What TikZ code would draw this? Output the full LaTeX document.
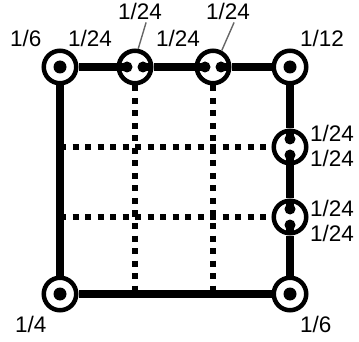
\documentclass[tikz,border=0pt]{standalone}
\usepackage{fontspec}
\setmainfont{Liberation Sans}
\begin{document}
\begin{tikzpicture}[x=1pt,y=-1pt,
  thickline/.style={line width=7.5pt},
  dotline/.style={line width=6pt, dash pattern=on 6pt off 6.5pt},
  vtx/.style={circle, draw, line width=3pt, fill=white, minimum size=34pt, inner sep=0pt},
  lbl/.style={font=\fontsize{22.5}{22.5}\selectfont, inner sep=0pt, anchor=base west},
  ptr/.style={line width=1.4pt, black!60}]
\useasboundingbox (0,0) rectangle (359,342);
% vertices
\node[vtx] (tl) at (60,67) {};
\node[vtx] (m1) at (135,67) {};
\node[vtx] (m2) at (213,67) {};
\node[vtx] (tr) at (290,67) {};
\node[vtx] (r1) at (290,147) {};
\node[vtx] (r2) at (290,217) {};
\node[vtx] (br) at (290,294) {};
\node[vtx] (bl) at (60,294) {};
% dotted grid
\draw[dotline] (m1.south) -- (m1 |- bl);
\draw[dotline] (m2.south) -- (m2 |- bl);
\draw[dotline] (tl |- r1) -- (r1.west);
\draw[dotline] (tl |- r2) -- (r2.west);
% thick frame
\draw[thickline] (tl) -- (m1);
\draw[thickline] (m1) -- (m2);
\draw[thickline] (m2) -- (tr);
\draw[thickline] (tr) -- (r1);
\draw[thickline] (r1) -- (r2);
\draw[thickline] (r2) -- (br);
\draw[thickline] (br) -- (bl);
\draw[thickline] (bl) -- (tl);
% redraw circles on top of dotted lines
\foreach \n in {tl,m1,m2,tr,r1,r2,br,bl}{
  \draw[line width=3pt, fill=white] (\n.center) circle (15.5pt);
}
% corner dots
\foreach \n in {tl,tr,br,bl}{
  \fill (\n.center) circle (6.5pt);
}
% split dots in top middle vertices
\foreach \n in {m1,m2}{
  \draw[thickline] ([xshift=-16pt]\n.center) -- ([xshift=-8pt]\n.center);
  \draw[thickline] ([xshift=16pt]\n.center) -- ([xshift=8pt]\n.center);
  \fill ([xshift=-8pt]\n.center) circle (5.5pt);
  \fill ([xshift=8pt]\n.center) circle (5.5pt);
}
% split dots in right middle vertices
\foreach \n in {r1,r2}{
  \draw[thickline] ([yshift=16pt]\n.center) -- ([yshift=8pt]\n.center);
  \draw[thickline] ([yshift=-16pt]\n.center) -- ([yshift=-8pt]\n.center);
  \fill ([yshift=8pt]\n.center) circle (5.5pt);
  \fill ([yshift=-8pt]\n.center) circle (5.5pt);
}
% labels
\node[lbl] (ltl) at (10,47) {1/6};
\node[lbl] (la) at (68,47) {1/24};
\node[lbl] (lb) at (156,47) {1/24};
\node[lbl] (lc) at (118,20) {1/24};
\node[lbl] (ld) at (206,20) {1/24};
\node[lbl] (ltr) at (300,47) {1/12};
\node[lbl] (lr1) at (310,142) {1/24};
\node[lbl] (lr2) at (310,167) {1/24};
\node[lbl] (lr3) at (310,216) {1/24};
\node[lbl] (lr4) at (310,241) {1/24};
\node[lbl] (lbl) at (15,332) {1/4};
\node[lbl] (lbr) at (300,332) {1/6};
% pointers
\draw[ptr] ([xshift=6pt,yshift=-2pt]lc.south) -- (m1.80);
\draw[ptr] ([xshift=6pt,yshift=-2pt]ld.south) -- (m2.62);
\end{tikzpicture}
\end{document}
